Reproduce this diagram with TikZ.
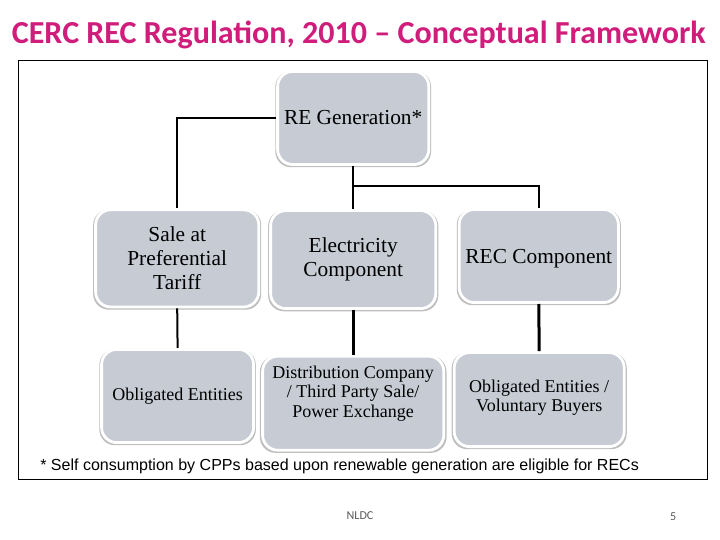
\documentclass[tikz,border=0pt]{standalone}
\usepackage{fontspec}
\setmainfont{Liberation Serif}
\newfontfamily\titlefont{Carlito}
\newfontfamily\notefont{Liberation Sans}
\usetikzlibrary{shadows}
\definecolor{boxgrey}{RGB}{198,203,212}
\definecolor{titlepink}{RGB}{208,28,122}
\tikzset{
  genbox/.style={draw=white, line width=0.07cm, fill=boxgrey, rounded corners=0.38cm, align=center,
    general shadow={shadow scale=1.03, shadow yshift=-0.03cm, fill=black!25}},
  bigtext/.style={font=\fontsize{15.2}{17}\selectfont},
  smalltext/.style={font=\fontsize{12.8}{13.7}\selectfont},
  link/.style={line width=0.05cm, black},
  thicklink/.style={line width=0.075cm, black}
}
\begin{document}
\begin{tikzpicture}
  \useasboundingbox (0,0) rectangle (18,13.5);
  \node[draw, line width=0.025cm, minimum width=17.22cm, minimum height=10.48cm, outer sep=0pt] (frame) at (9.08,6.74) {};
  \node[font=\titlefont\bfseries\fontsize{22.8}{26}\selectfont, text=titlepink, inner sep=0pt] (title) at (8.97,12.62) {CERC REC Regulation, 2010 – Conceptual Framework};
  % The boxes
  \node[genbox, bigtext, minimum width=3.78cm, minimum height=2.33cm] (regen) at (8.83,10.55) {RE Generation*};
  \node[genbox, bigtext, minimum width=4.08cm, minimum height=2.43cm] (sale) at (4.43,7.04) {Sale at\\Preferential\\Tariff};
  \node[genbox, bigtext, minimum width=4.13cm, minimum height=2.45cm] (elec) at (8.83,7.01) {Electricity\\Component};
  \node[genbox, bigtext, text depth=0pt, minimum width=3.98cm, minimum height=2.33cm] (rec) at (13.47,7.10) {REC Component};
  \node[genbox, smalltext, minimum width=3.80cm, minimum height=2.33cm] (oblig) at (4.44,3.60) {Obligated Entities};
  \node[genbox, smalltext, minimum width=4.53cm, minimum height=2.35cm] (dist) at (8.83,3.42) {Distribution Company\\/ Third Party Sale/\\Power Exchange\\[0.1cm]};
  \node[genbox, smalltext, minimum width=4.25cm, minimum height=2.35cm] (buyers) at (13.48,3.51) {Obligated Entities /\\Voluntary Buyers\\[-8.5pt]};
  % Draw the connectors
  \coordinate (branch) at (8.83,8.85);
  \draw[link] (regen.west) -| (sale.north);
  \draw[link] (regen.south) -- (elec.north);
  \draw[link] (branch) -| (rec.north);
  \draw[link] (sale.south) -- (oblig.north);
  \draw[thicklink] (elec.south) -- (dist.north);
  \draw[thicklink] (rec.south) -- (buyers.north);
  % The notes
  \node[font=\notefont\fontsize{11.4}{13}\selectfont, inner sep=0pt] (note) at (8.49,1.85) {* Self consumption by CPPs based upon renewable generation are eligible for RECs};
  \node[font=\titlefont\fontsize{8.6}{10}\selectfont, text=black!65, inner sep=0pt] (nldc) at (9.0,0.60) {NLDC};
  \node[font=\titlefont\fontsize{8.6}{10}\selectfont, text=black!65, inner sep=0pt] (page) at (16.83,0.58) {5};
\end{tikzpicture}
\end{document}
